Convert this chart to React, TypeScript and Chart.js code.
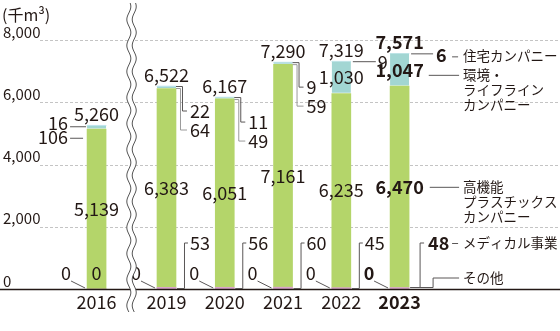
import React, { useEffect, useRef } from 'react';
import { Chart, registerables } from 'chart.js';

Chart.register(...registerables);

// ---- data ----
const years = ['2016', '2019', '2020', '2021', '2022', '2023'];
const others = [0, 0, 0, 0, 0, 0];
const medical = [0, 53, 56, 60, 45, 48];
const plastics = [5139, 6383, 6051, 7161, 6235, 6470];
const environment = [106, 64, 49, 59, 1030, 1047];
const housing = [16, 22, 11, 9, 9, 6];
const totals = [5260, 6522, 6167, 7290, 7319, 7571];
const yTicks = [0, 2000, 4000, 6000, 8000];
const unitLabel = '(千m³)';
const nameOthers = 'その他';
const nameMedical = 'メディカル事業';
const namePlastics = ['高機能', 'プラスチックス', 'カンパニー'];
const nameEnvironment = ['環境・', 'ライフライン', 'カンパニー'];
const nameHousing = '住宅カンパニー';

// ---- layout constants ----
const BREAK_GAP = 1.2;
const slot = (i: number) => (i === 0 ? 0 : i - 1 + BREAK_GAP);
const X_MIN = -0.413;
const X_MAX = 7.395;
const BAR_W = 19;
const FONT = "'Noto Sans CJK JP', 'Noto Sans', sans-serif";
const INK = '#231815';
const LINE = '#5a5757';
const LEG = 13.5;

const fmt = (n: number) => n.toLocaleString('en-US');

function txt(ctx: CanvasRenderingContext2D, s: string, x: number, y: number, align: CanvasTextAlign, size: number, bold = false) {
  ctx.font = `${bold ? 'bold ' : ''}${size}px ${FONT}`;
  ctx.fillStyle = INK;
  ctx.textAlign = align;
  ctx.textBaseline = 'middle';
  ctx.fillText(s, x, y);
}
function poly(ctx: CanvasRenderingContext2D, pts: number[][]) {
  ctx.beginPath();
  ctx.moveTo(pts[0][0], pts[0][1]);
  for (let k = 1; k < pts.length; k++) ctx.lineTo(pts[k][0], pts[k][1]);
  ctx.stroke();
}

const annot = {
  id: 'annot',
  beforeDatasetsDraw(chart: any) {
    const { ctx, chartArea, scales } = chart;
    const y = scales.y;
    ctx.save();
    ctx.strokeStyle = '#c4c4c4';
    ctx.lineWidth = 1;
    ctx.setLineDash([3, 2]);
    yTicks.forEach((v) => {
      if (v === 0) return;
      const py = Math.round(y.getPixelForValue(v)) + 0.5;
      ctx.beginPath();
      ctx.moveTo(chartArea.left, py);
      ctx.lineTo(chartArea.right, py);
      ctx.stroke();
    });
    ctx.restore();
  },
  afterDatasetsDraw(chart: any) {
    const { ctx, scales, width } = chart;
    const y = scales.y;
    const x = scales.x;
    const baseY = y.getPixelForValue(0);
    ctx.save();

    // baseline
    ctx.strokeStyle = '#231815';
    ctx.lineWidth = 1.5;
    ctx.beginPath();
    ctx.moveTo(0, baseY + 0.5);
    ctx.lineTo(width, baseY + 0.5);
    ctx.stroke();

    // y tick labels & unit
    yTicks.forEach((v) => txt(ctx, fmt(v), 3, y.getPixelForValue(v) - 8, 'left', 15));
    txt(ctx, unitLabel, 2, 15, 'left', 16);

    ctx.lineWidth = 1;
    ctx.strokeStyle = LINE;
    const last = years.length - 1;
    const V = 18;

    years.forEach((yr, i) => {
      const bold = i === last;
      const pBar = chart.getDatasetMeta(2).data[i];
      const eBar = chart.getDatasetMeta(3).data[i];
      const hBar = chart.getDatasetMeta(4).data[i];
      const bx = pBar.x;
      const left = bx - BAR_W / 2;
      const right = bx + BAR_W / 2;
      const topY = hBar.y;

      // year label
      txt(ctx, yr, bx, baseY + 13, 'center', 18, bold);
      // total
      txt(ctx, fmt(totals[i]), bx, topY - 11, 'center', V, bold);
      // plastics
      const pMid = (pBar.y + pBar.base) / 2;
      txt(ctx, fmt(plastics[i]), bx, pMid, 'center', V, bold);

      // others (left, diagonal leader)
      txt(ctx, fmt(others[i]), left - 21, baseY - 16, 'center', V, bold);
      poly(ctx, [[left - 16, baseY - 8], [left - 2, baseY - 1]]);

      // medical
      if (medical[i] === 0) {
        txt(ctx, fmt(medical[i]), bx, baseY - 16, 'center', V, bold);
      } else if (i < last) {
        poly(ctx, [[right + 1, baseY - 0.5], [right + 8.5, baseY - 0.5], [right + 8.5, baseY - 46], [right + 12, baseY - 46]]);
        txt(ctx, fmt(medical[i]), right + 14, baseY - 46, 'left', V, bold);
      }

      if (i === 0) {
        txt(ctx, fmt(housing[i]), left - 19, topY - 2, 'right', V, bold);
        poly(ctx, [[left - 17, topY + 1.5], [left - 1, topY + 1.5]]);
        txt(ctx, fmt(environment[i]), left - 19, topY + 12, 'right', V, bold);
        poly(ctx, [[left - 17, topY + 13], [left - 4, topY + 13]]);
      } else if (environment[i] < 500) {
        const yh = topY + 25;
        const ye = topY + 44;
        poly(ctx, [[right, topY + 0.5], [right + 6.5, topY + 0.5], [right + 6.5, yh], [right + 11, yh]]);
        txt(ctx, fmt(housing[i]), right + 14, yh, 'left', V, bold);
        ctx.strokeStyle = '#9a9a9a';
        poly(ctx, [[right, topY + 2.5], [right + 4.5, topY + 2.5], [right + 4.5, ye], [right + 11, ye]]);
        ctx.strokeStyle = LINE;
        txt(ctx, fmt(environment[i]), right + 14, ye, 'left', V, bold);
      } else {
        const eMid = (eBar.y + eBar.base) / 2;
        txt(ctx, fmt(environment[i]), bx, eMid, 'center', V, bold);
        if (i < last) {
          poly(ctx, [[right + 2, topY + 0.5], [right + 25, topY + 0.5]]);
          txt(ctx, fmt(housing[i]), right + 27, topY + 1, 'left', V, bold);
        } else {
          const lx = right + 54;
          // housing
          poly(ctx, [[right + 2, topY + 0.5], [right + 24, topY + 0.5]]);
          txt(ctx, fmt(housing[i]), right + 27, topY + 2, 'left', V, true);
          poly(ctx, [[right + 43, topY + 3.5], [right + 49, topY + 3.5]]);
          txt(ctx, nameHousing, lx, topY + 3, 'left', LEG);
          // environment
          ctx.font = `bold ${V}px ${FONT}`;
          const ew = ctx.measureText(fmt(environment[i])).width;
          const ey = eMid + 5;
          poly(ctx, [[bx + ew / 2 + 5, ey + 0.5], [lx - 4, ey + 0.5]]);
          nameEnvironment.forEach((s, k) => txt(ctx, s, lx, ey + k * 15, 'left', LEG));
          // plastics
          ctx.font = `bold ${V}px ${FONT}`;
          const pw = ctx.measureText(fmt(plastics[i])).width;
          poly(ctx, [[bx + pw / 2 + 6, pMid + 0.5], [lx - 4, pMid + 0.5]]);
          namePlastics.forEach((s, k) => txt(ctx, s, lx, pMid + k * 15, 'left', LEG));
          // medical
          poly(ctx, [[right + 1, baseY - 1.5], [right + 11, baseY - 1.5], [right + 11, baseY - 46], [right + 15, baseY - 46]]);
          txt(ctx, fmt(medical[i]), right + 19, baseY - 46, 'left', V, true);
          poly(ctx, [[right + 43, baseY - 45.5], [right + 49, baseY - 45.5]]);
          txt(ctx, nameMedical, lx, baseY - 46, 'left', LEG);
          // others
          poly(ctx, [[right + 4, baseY - 1.5], [right + 24, baseY - 1.5], [right + 24, baseY - 11], [lx - 4, baseY - 11]]);
          txt(ctx, nameOthers, lx, baseY - 11, 'left', LEG);
        }
      }
    });

    // axis break (double wavy line)
    const cx = (x.getPixelForValue(slot(0)) + x.getPixelForValue(slot(1))) / 2;
    const yA = 3;
    const yB = 312;
    const wave = (yy: number) => 2 * Math.sin((2 * Math.PI * yy) / 26);
    ctx.fillStyle = '#ffffff';
    ctx.beginPath();
    for (let yy = yA; yy <= yB; yy++) {
      const px = cx - 2.7 + wave(yy);
      if (yy === yA) ctx.moveTo(px, yy); else ctx.lineTo(px, yy);
    }
    for (let yy = yB; yy >= yA; yy--) ctx.lineTo(cx + 2.7 + wave(yy), yy);
    ctx.closePath();
    ctx.fill();
    ctx.strokeStyle = '#555';
    ctx.lineWidth = 1;
    [-2.7, 2.7].forEach((off) => {
      ctx.beginPath();
      for (let yy = yA; yy <= yB; yy++) {
        const px = cx + off + wave(yy);
        if (yy === yA) ctx.moveTo(px, yy); else ctx.lineTo(px, yy);
      }
      ctx.stroke();
    });

    ctx.restore();
  },
};

export default function App() {
  const ref = useRef<HTMLCanvasElement | null>(null);
  useEffect(() => {
    if (!ref.current) return;
    const pts = (arr: number[]) => arr.map((v, i) => ({ x: slot(i), y: v }));
    const common = { barThickness: BAR_W, borderWidth: 0 };
    const chart = new Chart(ref.current, {
      type: 'bar',
      data: {
        datasets: [
          { label: nameOthers, data: pts(others), backgroundColor: 'rgba(0,0,0,0)', ...common },
          { label: nameMedical, data: pts(medical), backgroundColor: '#d9a5c9', ...common },
          { label: namePlastics.join(''), data: pts(plastics), backgroundColor: '#b4d56a', ...common },
          { label: nameEnvironment.join(''), data: pts(environment), backgroundColor: '#a2d6d3', borderColor: '#ffffff', borderWidth: { bottom: 1, top: 0, left: 0, right: 0 }, borderSkipped: false, barThickness: BAR_W },
          { label: nameHousing, data: pts(housing), backgroundColor: '#c4e6ef', ...common },
        ],
      } as any,
      options: {
        responsive: false,
        animation: false,
        devicePixelRatio: 1,
        layout: { padding: { left: 40, top: 40, right: 0, bottom: 42 } },
        plugins: { legend: { display: false }, tooltip: { enabled: false } },
        scales: {
          x: { type: 'linear', display: false, min: X_MIN, max: X_MAX, stacked: true },
          y: { display: false, min: 0, max: 8000, stacked: true },
        },
      } as any,
      plugins: [annot],
    });
    return () => chart.destroy();
  }, []);
  return (
    <div style={{ position: 'fixed', left: 0, top: 0, width: 560, height: 331, background: '#fff' }}>
      <canvas ref={ref} width={560} height={331} />
    </div>
  );
}
